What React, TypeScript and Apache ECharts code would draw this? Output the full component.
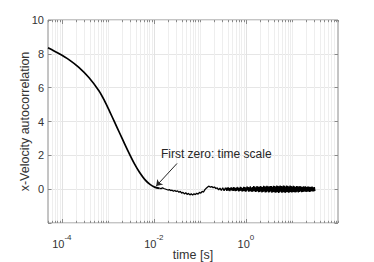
import React, { useEffect, useRef } from 'react';
import * as echarts from 'echarts';

// ---- axis setup ----
const X_MIN = 5e-5;
const X_MAX = 100;
const Y_MIN = -2;
const Y_MAX = 10;
const Y_STEP = 2;
const X_LABEL_EXPONENTS = [-4, -2, 0];
const Y_LABELS = [0, 2, 4, 6, 8, 10];

const X_NAME = 'time [s]';
const Y_NAME = 'x-Velocity autocorrelation';
const ANNOTATION = 'First zero: time scale';
const ANNOT_TEXT_AT = [0.0142, 2.07];
const ARROW_FROM = [0.0318, 1.52];
const ARROW_TO = [0.0112, 0.18];

// ---- data: smooth decay (time [s], value) ----
const SMOOTH_T = [5.0e-5, 8.59e-5, 1.419e-4, 2.339e-4, 3.864e-4, 6.38e-4, 8.48e-4, 1.09e-3, 1.4e-3, 1.799e-3, 2.311e-3, 2.97e-3, 3.815e-3, 4.902e-3, 6.297e-3, 8.088e-3, 1.039e-2, 1.335e-2];
const SMOOTH_V = [8.36, 8.02, 7.66, 7.2, 6.6, 5.82, 5.22, 4.6, 3.96, 3.32, 2.68, 2.06, 1.48, 0.98, 0.58, 0.3, 0.12, 0.05];

// ---- data: fluctuating tail, sampled at log-spaced lags ----
const MID_T_RANGE = [0.0134, 0.384];
const MID_V = [
  0.05, 0.03, 0.08, 0.04, 0.01, -0.02, -0.05, -0.03, -0.08, -0.06,
  -0.12, -0.08, -0.14, -0.1, -0.18, -0.13, -0.23, -0.19, -0.28, -0.21,
  -0.31, -0.25, -0.34, -0.27, -0.35, -0.27, -0.32, -0.24, -0.29, -0.19,
  -0.24, -0.13, -0.17, -0.03, 0.06, 0.13, 0.18, 0.11, 0.16, 0.09,
  0.13, 0.04, 0.08, -0.04, 0.06, -0.08, 0.08, -0.1, 0.09, -0.1,
];
const BAND_T_RANGE = [0.39, 31.5];
const BAND_V = [
  0.09, -0.07, 0.1, -0.09, 0.06, -0.11, 0.09, -0.05, 0.11, -0.08,
  0.07, -0.1, 0.12, -0.08, 0.09, -0.12, 0.06, -0.1, 0.13, -0.07,
  0.1, -0.13, 0.08, -0.11, 0.14, -0.09, 0.11, -0.14, 0.07, -0.12,
  0.14, -0.1, 0.12, -0.15, 0.09, -0.13, 0.16, -0.08, 0.13, -0.15,
  0.11, -0.14, 0.17, -0.12, 0.1, -0.16, 0.12, -0.14, 0.18, -0.11,
  0.15, -0.17, 0.11, -0.15, 0.18, -0.12, 0.16, -0.18, 0.13, -0.16,
  0.19, -0.14, 0.15, -0.19, 0.12, -0.17, 0.2, -0.13, 0.17, -0.19,
  0.15, -0.18, 0.2, -0.14, 0.17, -0.2, 0.16, -0.18, 0.19, -0.14,
  0.18, -0.21, 0.14, -0.18, 0.2, -0.16, 0.19, -0.21, 0.16, -0.19,
  0.21, -0.16, 0.19, -0.22, 0.17, -0.2, 0.22, -0.15, 0.18, -0.21,
  0.17, -0.19, 0.21, -0.17, 0.2, -0.22, 0.15, -0.18, 0.21, -0.16,
  0.19, -0.21, 0.16, -0.19, 0.22, -0.17, 0.18, -0.2, 0.15, -0.18,
  0.2, -0.16, 0.17, -0.2, 0.14, -0.18, 0.19, -0.15, 0.17, -0.19,
  0.15, -0.17, 0.18, -0.14, 0.16, -0.18, 0.13, -0.16, 0.17, -0.15,
  0.16, -0.14, 0.17, -0.16, 0.13, -0.15, 0.16, -0.13, 0.15, -0.16,
  0.12, -0.15, 0.14, -0.12, 0.15, -0.13, 0.11, -0.14, 0.13, -0.11,
];

const FONT = '"Liberation Sans", Arial, Helvetica, sans-serif';
const TEXT_COLOR = '#333333';
const AXIS_COLOR = '#8a8a8a';

const GRID = { left: 48, right: 36, top: 20, bottom: 39 };
const W = 374;
const H = 262;

function logLags(range: number[], n: number): number[] {
  const a = Math.log10(range[0]);
  const b = Math.log10(range[1]);
  const out: number[] = [];
  for (let i = 0; i < n; i++) out.push(Math.pow(10, a + ((b - a) * i) / (n - 1)));
  return out;
}

function buildTicks() {
  // [t, yPlaceholder, kind] kind: 2 labelled decade, 1 other decade, 0 minor
  const ticks: number[][] = [];
  for (let n = -5; n <= 2; n++) {
    for (let k = 1; k <= 9; k++) {
      const t = k * Math.pow(10, n);
      if (t < X_MIN * 0.999 || t > X_MAX * 1.001) continue;
      let kind = 0;
      if (k === 1) kind = X_LABEL_EXPONENTS.includes(n) ? 2 : 1;
      ticks.push([t, Y_MIN, kind]);
    }
  }
  return ticks;
}

export default function App() {
  const ref = useRef<HTMLDivElement>(null);

  useEffect(() => {
    document.body.style.margin = '0';
    if (!ref.current) return;
    const chart = echarts.init(ref.current, undefined, { renderer: 'svg' });

    const smoothData = SMOOTH_T.map((t, i) => [t, SMOOTH_V[i]]);
    const midT = logLags(MID_T_RANGE, MID_V.length);
    const bandT = logLags(BAND_T_RANGE, BAND_V.length);
    const tailData = [
      ...midT.map((t, i) => [t, MID_V[i]]),
      ...bandT.map((t, i) => [t, BAND_V[i]]),
    ];

    const plotCenterX = GRID.left + (W - GRID.left - GRID.right) / 2;
    const plotCenterY = GRID.top + (H - GRID.top - GRID.bottom) / 2;

    const option: any = {
      animation: false,
      backgroundColor: '#ffffff',
      textStyle: { fontFamily: FONT },
      grid: {
        ...GRID,
        containLabel: false,
        outerBoundsMode: 'none',
        show: true,
        borderColor: AXIS_COLOR,
        borderWidth: 1,
        backgroundColor: 'transparent',
      },
      graphic: [
        {
          type: 'text',
          x: plotCenterX,
          y: 255,
          silent: true,
          style: {
            text: X_NAME,
            fill: TEXT_COLOR,
            font: `12.5px ${FONT}`,
            align: 'center',
            verticalAlign: 'middle',
          },
        },
        {
          type: 'text',
          x: 25,
          y: plotCenterY,
          rotation: Math.PI / 2,
          silent: true,
          style: {
            text: Y_NAME,
            fill: TEXT_COLOR,
            font: `12.5px ${FONT}`,
            align: 'center',
            verticalAlign: 'middle',
          },
        },
      ],
      xAxis: {
        type: 'log',
        logBase: 10,
        min: X_MIN,
        max: X_MAX,
        axisLine: { show: false },
        axisTick: { show: false },
        splitLine: { show: false },
        minorTick: { show: false },
        axisLabel: {
          show: true,
          margin: 10,
          color: TEXT_COLOR,
          fontFamily: FONT,
          showMinLabel: true,
          showMaxLabel: true,
          hideOverlap: false,
          formatter: (value: number) => {
            const e = Math.log10(value);
            const r = Math.round(e);
            if (Math.abs(e - r) > 1e-6 || !X_LABEL_EXPONENTS.includes(r)) return '';
            return `{b|10}{s|${r}}`;
          },
          rich: {
            b: { fontSize: 11, color: TEXT_COLOR, fontFamily: FONT, verticalAlign: 'bottom', lineHeight: 16 },
            s: { fontSize: 8, color: TEXT_COLOR, fontFamily: FONT, verticalAlign: 'top', lineHeight: 16 },
          },
        },
      },
      yAxis: [
        {
          type: 'value',
          min: Y_MIN,
          max: Y_MAX,
          interval: Y_STEP,
          axisLine: { show: false },
          axisTick: { show: true, inside: true, length: 3.5, lineStyle: { color: AXIS_COLOR } },
          splitLine: { show: true, lineStyle: { color: '#e6e6e6', width: 1 } },
          axisLabel: {
            margin: 4,
            color: TEXT_COLOR,
            fontSize: 11,
            fontFamily: FONT,
            formatter: (v: number) => (Y_LABELS.includes(v) ? String(v) : ''),
          },
        },
        {
          type: 'value',
          position: 'right',
          min: Y_MIN,
          max: Y_MAX,
          interval: Y_STEP,
          axisLine: { show: false },
          axisTick: { show: true, inside: true, length: 3.5, lineStyle: { color: AXIS_COLOR } },
          splitLine: { show: false },
          axisLabel: { show: false },
        },
      ],
      series: [
        {
          type: 'custom',
          silent: true,
          z: 0,
          data: buildTicks(),
          encode: { x: 0, y: 1 },
          renderItem: (params: any, api: any) => {
            const t = api.value(0);
            const kind = api.value(2);
            const p = api.coord([t, Y_MIN]);
            const cs = params.coordSys;
            const x = Math.round(p[0]) + 0.5;
            const top = cs.y;
            const bottom = cs.y + cs.height;
            const children: any[] = [];
            if (x > cs.x + 1.5 && x < cs.x + cs.width - 1.5) {
              children.push({
                type: 'line',
                shape: { x1: x, y1: top, x2: x, y2: bottom },
                style: { stroke: kind === 2 ? '#e2e2e2' : '#eeeeee', lineWidth: 1 },
              });
            }
            const len = kind === 2 ? 4 : 2.2;
            children.push({
              type: 'line',
              shape: { x1: x, y1: bottom, x2: x, y2: bottom - len },
              style: { stroke: AXIS_COLOR, lineWidth: 1 },
            });
            children.push({
              type: 'line',
              shape: { x1: x, y1: top, x2: x, y2: top + len },
              style: { stroke: AXIS_COLOR, lineWidth: 1 },
            });
            return { type: 'group', children };
          },
        },
        {
          type: 'line',
          z: 3,
          data: smoothData,
          smooth: 0.3,
          showSymbol: false,
          symbol: 'none',
          lineStyle: { color: '#000000', width: 1.7 },
        },
        {
          type: 'line',
          z: 3,
          data: tailData,
          showSymbol: false,
          symbol: 'none',
          lineStyle: { color: '#000000', width: 1.3 },
          markLine: {
            silent: true,
            symbol: ['none', 'arrow'],
            symbolSize: 6,
            label: { show: false },
            lineStyle: { color: '#262626', width: 1, type: 'solid' },
            data: [[{ coord: ARROW_FROM }, { coord: ARROW_TO }]],
          },
          markPoint: {
            silent: true,
            symbol: 'circle',
            symbolSize: 0,
            data: [{ coord: ANNOT_TEXT_AT, value: ANNOTATION }],
            label: {
              show: true,
              position: 'right',
              distance: 0,
              formatter: ANNOTATION,
              color: '#262626',
              fontSize: 12,
              fontFamily: FONT,
            },
          },
        },
      ],
    };

    chart.setOption(option);
    return () => chart.dispose();
  }, []);

  return <div ref={ref} style={{ width: W, height: H }} />;
}
